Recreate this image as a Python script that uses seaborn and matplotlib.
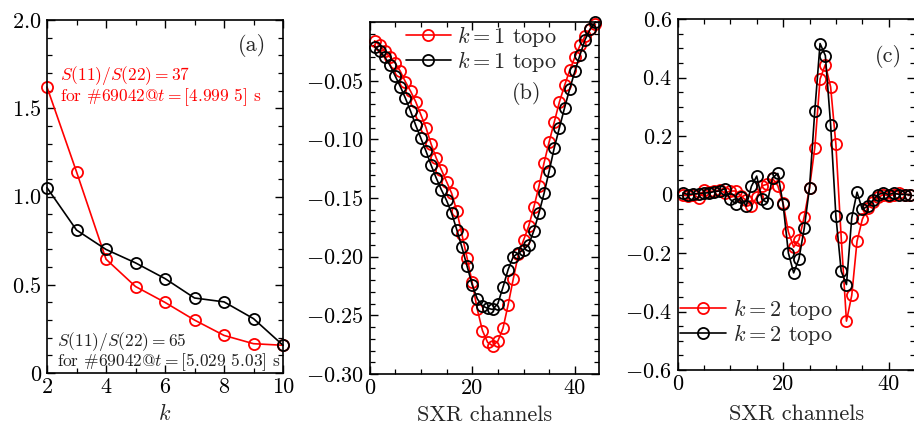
import matplotlib
matplotlib.use("Agg")
import matplotlib.pyplot as plt
import seaborn as sns
from matplotlib.ticker import FixedLocator, FixedFormatter, MultipleLocator

# panel (a): singular value ratios
k_modes = [2, 3, 4, 5, 6, 7, 8, 9, 10]
ratio_red = [1.62, 1.14, 0.645, 0.49, 0.40, 0.30, 0.213, 0.166, 0.157]
ratio_black = [1.05, 0.81, 0.70, 0.624, 0.535, 0.425, 0.403, 0.308, 0.157]

# SXR channel index
channels = list(range(1, 45))

# panel (b): k=1 topos
topo1_red = [-0.016, -0.020, -0.025, -0.030, -0.035, -0.042, -0.051, -0.059, -0.068, -0.079,
             -0.090, -0.104, -0.116, -0.126, -0.136, -0.146, -0.161, -0.181, -0.201, -0.222,
             -0.245, -0.263, -0.273, -0.276, -0.272, -0.261, -0.241, -0.219, -0.198, -0.186,
             -0.174, -0.158, -0.140, -0.120, -0.102, -0.085, -0.068, -0.054, -0.041, -0.030,
             -0.020, -0.012, -0.006, -0.002]
topo1_black = [-0.021, -0.025, -0.030, -0.037, -0.046, -0.055, -0.065, -0.076, -0.088, -0.099,
               -0.110, -0.122, -0.133, -0.143, -0.152, -0.163, -0.177, -0.192, -0.208, -0.224,
               -0.236, -0.242, -0.244, -0.245, -0.240, -0.226, -0.211, -0.200, -0.197, -0.194,
               -0.190, -0.178, -0.163, -0.146, -0.127, -0.107, -0.090, -0.073, -0.057, -0.042,
               -0.028, -0.015, -0.006, 0.000]

# panel (c): k=2 topos
topo2_red = [0.000, -0.005, 0.000, -0.012, 0.015, 0.010, 0.012, 0.015, 0.005, 0.012,
             0.012, -0.005, -0.020, -0.040, -0.010, 0.030, 0.035, 0.055, 0.030, -0.030,
             -0.128, -0.180, -0.155, -0.076, 0.023, 0.160, 0.395, 0.444, 0.368, 0.171,
             -0.146, -0.433, -0.345, -0.160, -0.085, -0.046, -0.025, -0.010, 0.000, -0.005,
             0.000, 0.005, 0.000, 0.000]
topo2_black = [0.005, 0.000, 0.002, 0.003, 0.005, 0.006, 0.010, 0.012, 0.020, -0.017,
               -0.031, -0.010, -0.040, 0.028, 0.063, -0.017, -0.028, 0.057, 0.072, -0.034,
               -0.200, -0.268, -0.220, -0.116, 0.023, 0.285, 0.516, 0.475, 0.239, -0.074,
               -0.262, -0.308, -0.080, 0.008, -0.051, -0.040, -0.020, 0.000, 0.005, 0.000,
               0.005, 0.000, 0.000, 0.000]

sns.set_style("ticks")
plt.rcParams["font.family"] = ["cmr10", "DejaVu Serif"]
plt.rcParams["mathtext.fontset"] = "cm"
plt.rcParams["axes.formatter.use_mathtext"] = True

FS = 16
RED = "#ff0000"

fig = plt.figure(figsize=(9.14, 4.24), dpi=100)
ax_a = fig.add_axes([47 / 914, 1 - 373 / 424, 236 / 914, 353 / 424])
ax_b = fig.add_axes([369.5 / 914, 1 - 374 / 424, 229.5 / 914, 352 / 424])
ax_c = fig.add_axes([677.5 / 914, 1 - 370 / 424, 237.6 / 914, 351 / 424])


def draw(ax, x, y, color, label=None):
    sns.lineplot(x=x, y=y, ax=ax, color=color, linewidth=1.2, marker="o",
                 markersize=8, markerfacecolor="none", markeredgecolor=color,
                 markeredgewidth=1.3, label=label, clip_on=False)


def style(ax, yt, ylab):
    ax.tick_params(which="both", direction="in", top=True, right=True,
                   labelsize=FS, colors="black")
    ax.tick_params(which="major", length=6, width=1.0, pad=4)
    ax.tick_params(which="minor", length=3.5, width=0.9)
    ax.tick_params(axis="x", pad=3)
    ax.yaxis.set_major_locator(FixedLocator(yt))
    ax.yaxis.set_major_formatter(FixedFormatter(ylab))
    for s in ax.spines.values():
        s.set_linewidth(1.2)
        s.set_color("black")


# (a)
draw(ax_a, k_modes, ratio_red, RED)
draw(ax_a, k_modes, ratio_black, "black")
ax_a.set_xlim(2, 10)
ax_a.set_ylim(0, 2)
style(ax_a, [0, 0.5, 1.0, 1.5, 2.0], ["0", r"$0.5$", r"$1.0$", r"$1.5$", r"$2.0$"])
ax_a.xaxis.set_major_locator(FixedLocator([2, 4, 6, 8, 10]))
ax_a.xaxis.set_major_formatter(FixedFormatter(["2", "4", "6", "8", "10"]))
ax_a.xaxis.set_minor_locator(MultipleLocator(1))
ax_a.yaxis.set_minor_locator(MultipleLocator(0.1))
ax_a.set_xlabel(r"$k$", fontsize=FS)
ax_a.xaxis.set_label_coords(0.5, -0.085)
ax_a.set_ylabel("")
ax_a.text(0.869, 0.929, "(a)", transform=ax_a.transAxes, fontsize=FS,
          ha="center", va="center")
ax_a.text(0.055, 0.844, r"$S(11)/S(22)=37$", transform=ax_a.transAxes,
          fontsize=12.5, color=RED, ha="left", va="center")
ax_a.text(0.055, 0.782, r"for #69042@$t=$[4.999 5] s", transform=ax_a.transAxes,
          fontsize=12.5, color=RED, ha="left", va="center")
ax_a.text(0.042, 0.088, r"$S(11)/S(22)=65$", transform=ax_a.transAxes,
          fontsize=12.5, color="#222222", ha="left", va="center")
ax_a.text(0.042, 0.031, r"for #69042@$t=$[5.029 5.03] s", transform=ax_a.transAxes,
          fontsize=12.5, color="#222222", ha="left", va="center")

# (b)
draw(ax_b, channels, topo1_red, RED, r"$k=1$ topo")
draw(ax_b, channels, topo1_black, "black", r"$k=1$ topo")
ax_b.set_xlim(0, 44.7)
ax_b.set_ylim(-0.30, 0.0)
style(ax_b, [-0.05, -0.10, -0.15, -0.20, -0.25, -0.30],
      [r"$-0.05$", r"$-0.10$", r"$-0.15$", r"$-0.20$", r"$-0.25$", r"$-0.30$"])
ax_b.xaxis.set_major_locator(FixedLocator([0, 20, 40]))
ax_b.xaxis.set_major_formatter(FixedFormatter(["0", "20", "40"]))
ax_b.xaxis.set_minor_locator(MultipleLocator(5))
ax_b.yaxis.set_minor_locator(MultipleLocator(0.01))
ax_b.set_xlabel("SXR channels", fontsize=FS)
ax_b.xaxis.set_label_coords(0.5, -0.09)
ax_b.set_ylabel("")
ax_b.legend(loc="upper left", bbox_to_anchor=(0.15, 1.0), frameon=False,
            fontsize=FS, handlelength=2.0, handletextpad=0.3, labelspacing=0.0,
            borderaxespad=0, borderpad=0.1)
ax_b.text(0.686, 0.798, "(b)", transform=ax_b.transAxes, fontsize=FS,
          ha="center", va="center")

# (c)
draw(ax_c, channels, topo2_red, RED, r"$k=2$ topo")
draw(ax_c, channels, topo2_black, "black", r"$k=2$ topo")
ax_c.set_xlim(0, 45)
ax_c.set_ylim(-0.6, 0.6)
style(ax_c, [0.6, 0.4, 0.2, 0, -0.2, -0.4, -0.6],
      [r"$0.6$", r"$0.4$", r"$0.2$", "0", r"$-0.2$", r"$-0.4$", r"$-0.6$"])
ax_c.xaxis.set_major_locator(FixedLocator([0, 20, 40]))
ax_c.xaxis.set_major_formatter(FixedFormatter(["0", "20", "40"]))
ax_c.xaxis.set_minor_locator(MultipleLocator(5))
ax_c.yaxis.set_minor_locator(MultipleLocator(0.05))
ax_c.set_xlabel("SXR channels", fontsize=FS)
ax_c.xaxis.set_label_coords(0.5, -0.097)
ax_c.set_ylabel("")
ax_c.legend(loc="lower left", bbox_to_anchor=(0.0, 0.06), frameon=False,
            fontsize=FS, handlelength=2.1, handletextpad=0.3, labelspacing=0.0,
            borderaxespad=0, borderpad=0.1)
ax_c.text(0.886, 0.892, "(c)", transform=ax_c.transAxes, fontsize=FS,
          ha="center", va="center")

fig.savefig("out.png", dpi=100)
